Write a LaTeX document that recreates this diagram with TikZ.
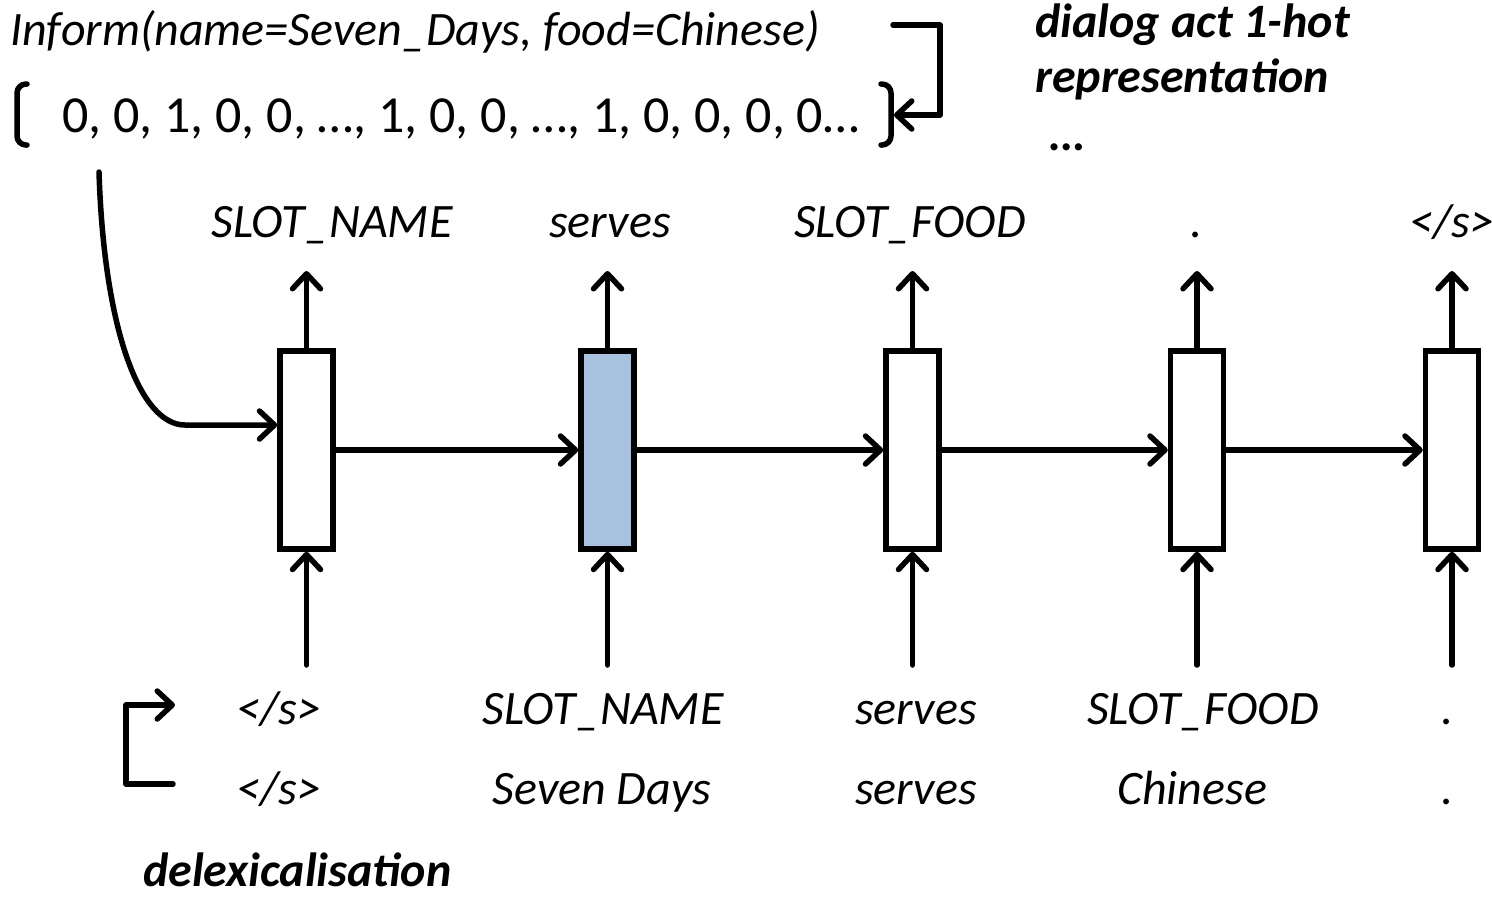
\documentclass[tikz,border=0pt]{standalone}
\usepackage{fontspec}
\setmainfont{Carlito}
\usetikzlibrary{arrows.meta}
\begin{document}
\begin{tikzpicture}[x=1pt,y=-1pt,
  thick line/.style={line width=5.5pt, line cap=round, line join=round},
  wire/.style={thick line, -{Straight Barb[length=15pt,width=28pt,line cap=round,line join=round]}},
  cell/.style={draw, line width=5.5pt, minimum width=53pt, minimum height=198pt, inner sep=0pt, fill=white},
  cellhot/.style={cell, fill=hotblue},
  word/.style={font=\fontsize{48}{56}\selectfont\itshape, anchor=base, inner sep=0pt},
  wordleft/.style={word, anchor=base west},
  plain/.style={font=\fontsize{52}{60}\selectfont, anchor=base west, inner sep=0pt},
  caption/.style={font=\fontsize{48}{56}\selectfont\bfseries\itshape, anchor=base west, inner sep=0pt}]
\definecolor{hotblue}{RGB}{167,193,223}
\useasboundingbox (0,0) rectangle (1492,898);

% dialog act and its 1-hot vector
\node[wordleft] (act) at (10,45) {Inform(name=Seven\_Days, food=Chinese)};
\node[plain] (vec) at (62,132) {0, 0, 1, 0, 0, …, 1, 0, 0, …, 1, 0, 0, 0, 0…};
\draw[thick line, rounded corners=9pt] (27,84) -- (17,84) -- (17,145) -- (27,145);
\draw[thick line, rounded corners=9pt] (881,84) -- (891,84) -- (891,145) -- (881,145);
\coordinate (actend) at (893,25);
\coordinate (vecend) at (894,115);
\draw[wire] (actend) -- (940,25) -- (940,115) -- (vecend);

\node[caption] (cap1) at (1035,37) {dialog act 1-hot};
\node[caption] (cap2) at (1035,92) {representation};
\node[caption] (cap3) at (1050,150) {…};

% recurrent cells
\node[cell]    (b1) at (306.5,450) {};
\node[cellhot] (b2) at (607.5,450) {};
\node[cell]    (b3) at (912.5,450) {};
\node[cell]    (b4) at (1197,450) {};
\node[cell]    (b5) at (1452,450) {};

\draw[wire] (b1.east) -- (b2.west);
\draw[wire] (b2.east) -- (b3.west);
\draw[wire] (b3.east) -- (b4.west);
\draw[wire] (b4.east) -- (b5.west);

% vector fed into the first cell
\coordinate (vecout) at (99,172);
\draw[wire] (vecout) .. controls (104,330) and (140,425) .. (185,425) -- ([yshift=25pt]b1.west);

% outputs and inputs of every cell
\foreach \i/\x in {1/306.5,2/607.5,3/912.5,4/1197,5/1452}{
  \coordinate (o\i) at (\x,271);
  \coordinate (in\i) at (\x,665);
  \draw[wire] (b\i.north) -- (o\i);
  \draw[wire] (in\i) -- (b\i.south);
}

\node[word] (t1) at (332,237) {SLOT\_NAME};
\node[word] (t2) at (610,237) {serves};
\node[word] (t3) at (910,237) {SLOT\_FOOD};
\node[word] (t4) at (1197,237) {.};
\node[word] (t5) at (1452,237) {</s>};

% delexicalised inputs
\node[word] (d1) at (279,724) {</s>};
\node[word] (d2) at (603,724) {SLOT\_NAME};
\node[word] (d3) at (916,724) {serves};
\node[word] (d4) at (1203,724) {SLOT\_FOOD};
\node[word] (d5) at (1448,724) {.};

% surface words
\node[word] (w1) at (279,804) {</s>};
\node[word] (w2) at (602,804) {Seven Days};
\node[word] (w3) at (916,804) {serves};
\node[word] (w4) at (1192,804) {Chinese};
\node[word] (w5) at (1448,804) {.};

\coordinate (lexstart) at (173,784);
\coordinate (lexend) at (175,705);
\draw[wire] (lexstart) -- (126,784) -- (126,705) -- (lexend);

\node[caption] (cap4) at (143,886) {delexicalisation};
\end{tikzpicture}
\end{document}
